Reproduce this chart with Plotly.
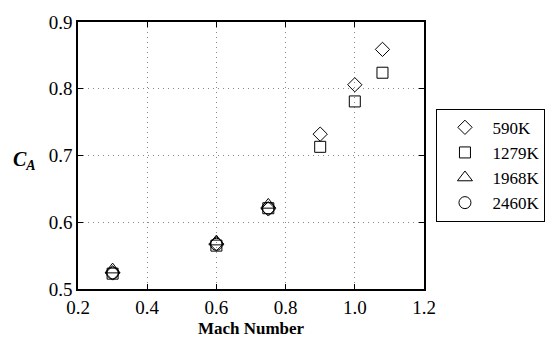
import plotly.graph_objects as go

mach = [0.3, 0.6, 0.75, 0.9, 1.0, 1.08]
ca_590 = [0.524, 0.568, 0.620, 0.732, 0.806, 0.859]
mach_1279 = [0.3, 0.6, 0.75, 0.9, 1.0, 1.08]
ca_1279 = [0.523, 0.565, 0.621, 0.713, 0.781, 0.824]
mach_1968 = [0.3, 0.6, 0.75]
ca_1968 = [0.529, 0.571, 0.626]
mach_2460 = [0.3, 0.6, 0.75]
ca_2460 = [0.524, 0.567, 0.621]

names = ["590K", "1279K", "1968K", "2460K"]
xs = [mach, mach_1279, mach_1968, mach_2460]
ys = [ca_590, ca_1279, ca_1968, ca_2460]
symbols = ["diamond-open", "square-open", "triangle-up-open", "circle-open"]
sizes = [11, 11, 13, 12]

font = "Liberation Serif"
fig = go.Figure()
for x, y, n, s, sz in zip(xs, ys, names, symbols, sizes):
    fig.add_trace(go.Scatter(x=x, y=y, mode="markers", name=n,
                             marker=dict(symbol=s, size=sz, color="black",
                                         line=dict(color="black", width=1))))

axis_common = dict(showline=True, linecolor="black", linewidth=1.5, mirror="ticks",
                   ticks="inside", ticklen=5, tickcolor="black",
                   showgrid=True, gridcolor="#888", griddash="1px,4px", gridwidth=1,
                   zeroline=False, tickfont=dict(family=font, size=19, color="black"))

fig.update_xaxes(range=[0.2, 1.2], dtick=0.2, tickformat=".1f",
                 title=dict(text="<b>Mach Number</b>", font=dict(family=font, size=17, color="black"), standoff=6),
                 **axis_common)
fig.update_yaxes(range=[0.5, 0.9], dtick=0.1, tickformat=".1f", **axis_common)

fig.add_annotation(text="<b><i>C</i></b><sub><b><i>A</i></b></sub>", xref="paper", yref="paper",
                   x=-0.155, y=0.48, showarrow=False, xanchor="center", yanchor="middle",
                   font=dict(family=font, size=20, color="black"))

fig.update_layout(width=557, height=347, margin=dict(l=78, r=122, t=15, b=46),
                  plot_bgcolor="white", paper_bgcolor="white",
                  font=dict(family=font, size=18, color="black"),
                  legend=dict(x=1.036, y=0.675, xanchor="left", yanchor="top",
                              bordercolor="black", borderwidth=1, bgcolor="white",
                              font=dict(family=font, size=17, color="black"),
                              itemwidth=45, tracegroupgap=0),
                  showlegend=True)

fig.write_html("out.html")
